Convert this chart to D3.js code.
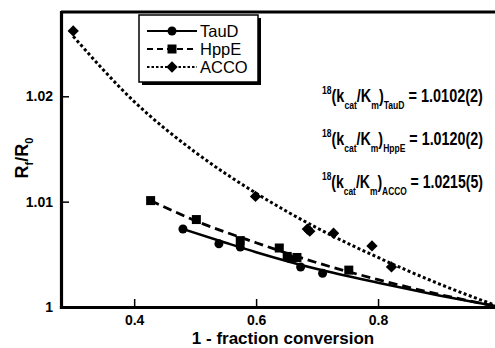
<!DOCTYPE html>
<html>
<head>
<meta charset="utf-8">
<script src="https://cdn.jsdelivr.net/npm/d3@7"></script>
<style>
  html, body { margin: 0; padding: 0; background: #fff; overflow: hidden; }
  svg { display: block; font-family: 'Liberation Sans', Arial, Helvetica, sans-serif; }
</style>
</head>
<body>
<svg id="chart"></svg>
<script>
// measured points (1 - fraction conversion, Rf/R0)
const tauX = [0.480, 0.539, 0.574, 0.655, 0.673, 0.709]
const tauY = [1.0074, 1.0060, 1.0057, 1.0046, 1.0038, 1.0032]
const hppX = [0.427, 0.502, 0.574, 0.638, 0.651, 0.667, 0.752]
const hppY = [1.0101, 1.0083, 1.0063, 1.0056, 1.0048, 1.0047, 1.0035]
const accoX = [0.300, 0.599, 0.684, 0.688, 0.727, 0.790, 0.822]
const accoY = [1.0262, 1.0105, 1.0074, 1.0072, 1.0070, 1.0058, 1.0038]

// fitted curves
const tauFitX = [0.48, 0.55, 0.6, 0.7, 0.8, 0.9, 1.0]
const tauFitY = [1.0074, 1.0061, 1.0052, 1.0036, 1.0023, 1.0011, 1.0]
const hppFitX = [0.427, 0.5, 0.6, 0.7, 0.8, 0.9, 1.0]
const hppFitY = [1.0101, 1.0082, 1.0061, 1.0042, 1.0026, 1.0012, 1.0]
const accoFitX = [0.3, 0.4, 0.5, 0.6, 0.7, 0.8, 0.9, 1.0]
const accoFitY = [1.0257, 1.0195, 1.0147, 1.0108, 1.0075, 1.0047, 1.0022, 1.0]

const seriesNames = ['TauD', 'HppE', 'ACCO']
const kieValues = ['1.0102(2)', '1.0120(2)', '1.0215(5)']
const xTicks = [0.4, 0.6, 0.8]
const yTicks = [1, 1.01, 1.02]

const width = 495
const height = 348
const plot = { left: 61, right: 500, top: 12, bottom: 307 }

const svg = d3.select('#chart')
  .attr('width', width)
  .attr('height', height)

const x = d3.scaleLinear()
  .domain([0.28, 1.0])
  .range([plot.left, plot.right])

const y = d3.scaleLinear()
  .domain([1, 1.028])
  .range([plot.bottom, plot.top])

const zip = (xs, ys) => xs.map((v, i) => [v, ys[i]])

const styles = [
  { dash: null, width: 2.5, symbol: 'circle' },
  { dash: '9,5', width: 2.8, symbol: 'square' },
  { dash: '3,2.5', width: 3, symbol: 'diamond' }
]

const fits = [zip(tauFitX, tauFitY), zip(hppFitX, hppFitY), zip(accoFitX, accoFitY)]
const points = [zip(tauX, tauY), zip(hppX, hppY), zip(accoX, accoY)]

const line = d3.line()
  .x(d => x(d[0]))
  .y(d => y(d[1]))
  .curve(d3.curveMonotoneX)

// fit curves
fits.forEach((data, i) => {
  svg.append('path')
    .datum(data)
    .attr('fill', 'none')
    .attr('stroke', '#000')
    .attr('stroke-width', styles[i].width)
    .attr('stroke-dasharray', styles[i].dash)
    .attr('d', line)
})

function drawMarker(g, kind, cx, cy) {
  if (kind === 'circle') {
    g.append('circle').attr('cx', cx).attr('cy', cy).attr('r', 4.5).attr('fill', '#000')
  } else if (kind === 'square') {
    g.append('rect').attr('x', cx - 4.5).attr('y', cy - 4.5)
      .attr('width', 9).attr('height', 9).attr('fill', '#000')
  } else {
    g.append('path')
      .attr('d', d3.symbol(d3.symbolSquare, 64)())
      .attr('transform', `translate(${cx},${cy}) rotate(45)`)
      .attr('fill', '#000')
  }
}

const marks = svg.append('g')
points.forEach((data, i) => {
  data.forEach(d => drawMarker(marks, styles[i].symbol, x(d[0]), y(d[1])))
})

// axes
const xAxis = d3.axisBottom(x)
  .tickValues(xTicks)
  .tickSizeInner(-8)
  .tickSizeOuter(0)
  .tickPadding(8.5)
  .tickFormat(d3.format('.1f'))

const yAxis = d3.axisLeft(y)
  .tickValues(yTicks)
  .tickSizeInner(-8)
  .tickSizeOuter(0)
  .tickPadding(8)
  .tickFormat(d => d === 1 ? '1' : d3.format('.2f')(d))

const gx = svg.append('g')
  .attr('transform', `translate(0,${plot.bottom})`)
  .call(xAxis)

const gy = svg.append('g')
  .attr('transform', `translate(${plot.left},0)`)
  .call(yAxis)

;[gx, gy].forEach(g => {
  g.select('.domain').attr('stroke-width', 3.2).attr('stroke-linecap', 'square')
  g.selectAll('.tick line').attr('stroke-width', 1.5)
  g.selectAll('.tick text')
    .attr('font-size', 14)
    .attr('font-weight', 'bold')
    .attr('font-family', "'Liberation Sans', Arial, sans-serif")
    .attr('fill', '#000')
})

// top frame line
svg.append('line')
  .attr('x1', plot.left).attr('x2', width)
  .attr('y1', plot.top).attr('y2', plot.top)
  .attr('stroke', '#000')
  .attr('stroke-width', 3.2)

// axis titles
svg.append('text')
  .attr('x', 283)
  .attr('y', 344)
  .attr('text-anchor', 'middle')
  .attr('font-size', 17)
  .attr('font-weight', 'bold')
  .text('1 - fraction conversion')

const yt = svg.append('text')
  .attr('transform', 'translate(28,158) rotate(-90)')
  .attr('text-anchor', 'middle')
  .attr('font-size', 18)
  .attr('font-weight', 'bold')
yt.append('tspan').text('R')
yt.append('tspan').attr('font-size', 11).attr('dy', 5).text('f')
yt.append('tspan').attr('dy', -5).text('/R')
yt.append('tspan').attr('font-size', 11).attr('dy', 5).text('0')

// legend
const lg = svg.append('g')
lg.append('rect')
  .attr('x', 142).attr('y', 18).attr('width', 119).attr('height', 67)
  .attr('fill', '#000')
lg.append('rect')
  .attr('x', 139).attr('y', 15).attr('width', 119).attr('height', 67)
  .attr('fill', '#fff').attr('stroke', '#000').attr('stroke-width', 1.5)

seriesNames.forEach((name, i) => {
  const ly = 31 + i * 18
  lg.append('line')
    .attr('x1', 147).attr('x2', 197)
    .attr('y1', ly).attr('y2', ly)
    .attr('stroke', '#000')
    .attr('stroke-width', 2)
    .attr('stroke-dasharray', i === 0 ? null : (i === 1 ? '6,4' : '2.5,2'))
  drawMarker(lg, styles[i].symbol, 172, ly)
  lg.append('text')
    .attr('x', 200).attr('y', ly)
    .attr('dy', '0.36em')
    .attr('font-size', 16.5)
    .text(name)
})

// KIE annotations
kieValues.forEach((v, i) => {
  const by = 102 + i * 43
  const g = svg.append('g')
  const t = g.append('text')
    .attr('x', 0).attr('y', 0)
    .attr('font-size', 18.5)
    .attr('font-weight', 'bold')
  t.append('tspan').attr('font-size', 11).attr('dy', -8).text('18')
  t.append('tspan').attr('dy', 8).text('(k')
  t.append('tspan').attr('font-size', 11).attr('dy', 7).text('cat')
  t.append('tspan').attr('dy', -7).text('/K')
  t.append('tspan').attr('font-size', 11).attr('dy', 7).text('m')
  t.append('tspan').attr('dy', -7).text(')')
  t.append('tspan').attr('font-size', 11).attr('dy', 7).text(seriesNames[i])
  t.append('tspan').attr('dy', -7).text(' = ' + v)
  const w = t.node().getComputedTextLength()
  const sx = 161 / w
  g.attr('transform', `translate(322,${by}) scale(${sx},1)`)
})
</script>
</body>
</html>
